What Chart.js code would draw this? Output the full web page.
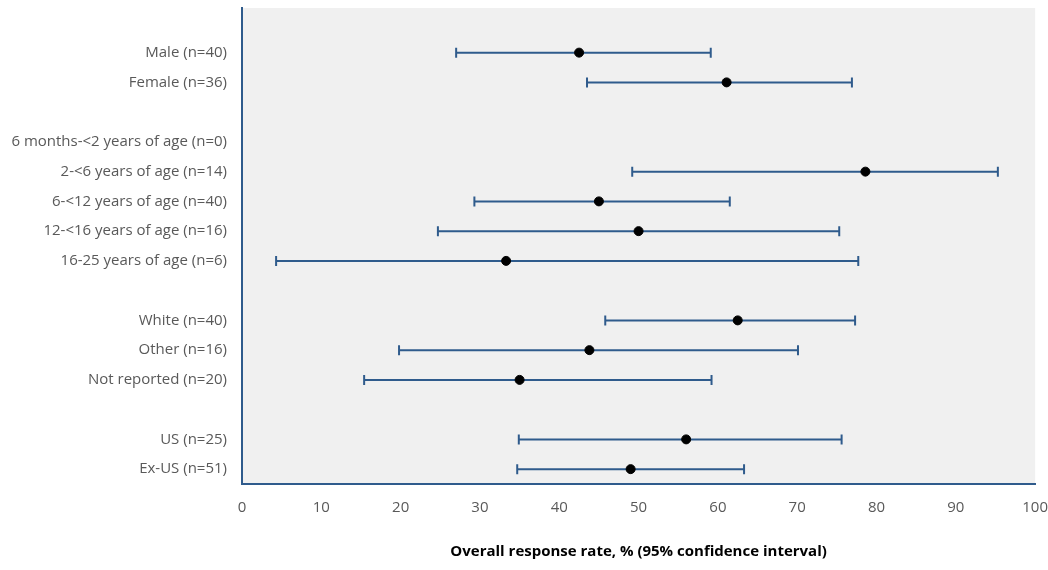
<!DOCTYPE html>
<html>
<head>
<meta charset="utf-8">
<title>Overall response rate by subgroup</title>
<script src="https://cdn.jsdelivr.net/npm/chart.js@4.4.1/dist/chart.umd.min.js"></script>
<style>
  html, body { margin: 0; padding: 0; background: #fff; }
  #wrap { width: 1048px; height: 570px; position: relative; }
</style>
</head>
<body>
<div id="wrap"><canvas id="chart"></canvas></div>
<script>
// Subgroup rows, top to bottom ('' = spacer row)
const rowLabels = [
  'Male (n=40)', 'Female (n=36)', '',
  '6 months-<2 years of age (n=0)', '2-<6 years of age (n=14)', '6-<12 years of age (n=40)',
  '12-<16 years of age (n=16)', '16-25 years of age (n=6)', '',
  'White (n=40)', 'Other (n=16)', 'Not reported (n=20)', '',
  'US (n=25)', 'Ex-US (n=51)'
];
// Overall response rate, % and 95% CI bounds
const orr    = [42.5, 61.1, null, null, 78.6, 45.0, 50.0, 33.3, null, 62.5, 43.8, 35.0, null, 56.0, 49.0];
const ciLow  = [27.0, 43.5, null, null, 49.2, 29.3, 24.7, 4.3,  null, 45.8, 19.8, 15.4, null, 34.9, 34.7];
const ciHigh = [59.1, 76.9, null, null, 95.3, 61.5, 75.3, 77.7, null, 77.3, 70.1, 59.2, null, 75.6, 63.3];
const xTicks = [0, 10, 20, 30, 40, 50, 60, 70, 80, 90, 100];

const BLUE = '#2f5b8c';
const GREY = '#595959';

// point estimates
const datasets = [{
  label: 'ORR',
  data: orr.map(function (v, i) { return v == null ? null : { x: v, y: i }; }).filter(Boolean),
  backgroundColor: '#000',
  borderColor: '#000',
  pointRadius: 4.5,
  pointHoverRadius: 4.5,
  order: 0
}];

// one CI line per row, capped with vertical line markers
rowLabels.forEach(function (lab, i) {
  if (ciLow[i] == null) return;
  datasets.push({
    label: lab,
    data: [{ x: ciLow[i], y: i }, { x: ciHigh[i], y: i }],
    showLine: true,
    borderColor: BLUE,
    borderWidth: 2,
    pointStyle: 'line',
    pointRotation: 90,
    pointRadius: 5,
    pointHoverRadius: 5,
    pointBorderColor: BLUE,
    pointBorderWidth: 2,
    order: 1
  });
});

const plotBg = {
  id: 'plotBg',
  beforeDraw: function (chart) {
    const a = chart.chartArea, ctx = chart.ctx;
    ctx.save();
    ctx.fillStyle = '#f0f0f0';
    ctx.fillRect(a.left, a.top, a.right - a.left, a.bottom - a.top);
    ctx.restore();
  }
};

new Chart(document.getElementById('chart').getContext('2d'), {
  type: 'scatter',
  data: { datasets: datasets },
  plugins: [plotBg],
  options: {
    responsive: true,
    maintainAspectRatio: false,
    animation: false,
    layout: { padding: { top: 8, right: 1, left: 0, bottom: 0 } },
    plugins: { legend: { display: false }, tooltip: { enabled: false } },
    scales: {
      x: {
        type: 'linear',
        min: 0, max: 100,
        afterBuildTicks: function (s) { s.ticks = xTicks.map(function (v) { return { value: v }; }); },
        // hidden tick marks just push the labels away from the axis
        grid: { display: false, drawTicks: true, tickLength: 15 },
        border: { color: BLUE, width: 2 },
        ticks: { color: GREY, font: { family: 'Open Sans', size: 15 }, padding: 0, maxRotation: 0 },
        title: {
          display: true,
          text: 'Overall response rate, % (95% confidence interval)',
          color: '#000',
          font: { family: 'Open Sans', size: 15, weight: 'bold' },
          padding: { top: 12, bottom: 9 }
        },
        afterFit: function (s) { s.height = 86; }
      },
      y: {
        type: 'linear',
        reverse: true,
        min: -1.5, max: 14.5,
        // zero-line ticks at both ends so no edge padding is reserved
        afterBuildTicks: function (s) {
          const t = [{ value: -1.5 }];
          rowLabels.forEach(function (l, i) { t.push({ value: i }); });
          t.push({ value: 14.5 });
          s.ticks = t;
        },
        grid: { display: false, drawTicks: true, tickLength: 15 },
        border: { color: BLUE, width: 2 },
        ticks: {
          color: GREY,
          font: { family: 'Open Sans', size: 15 },
          padding: 0,
          autoSkip: false,
          callback: function (v) { return Number.isInteger(v) ? (rowLabels[v] || '') : []; }
        },
        afterFit: function (s) { s.width = 242; }
      }
    }
  }
});
</script>
</body>
</html>
